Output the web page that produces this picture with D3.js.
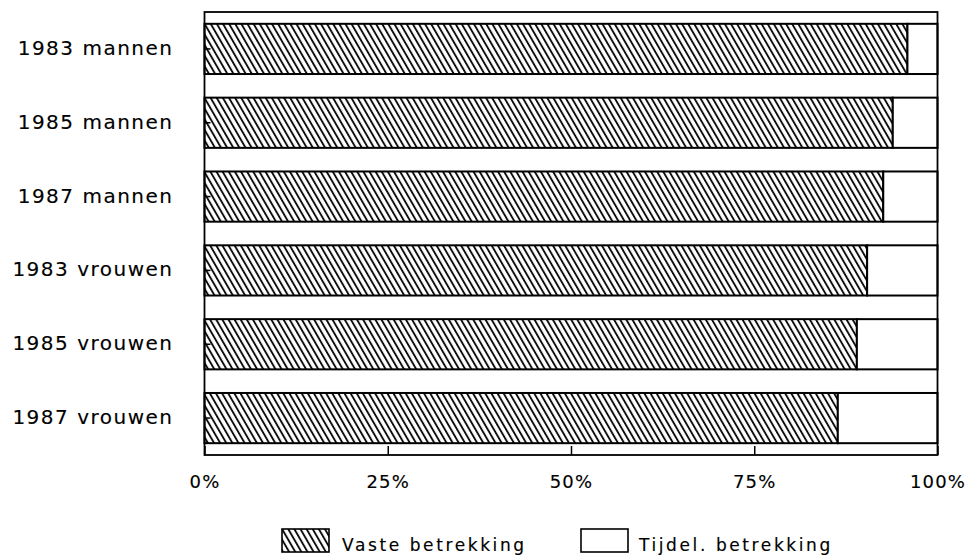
<!DOCTYPE html>
<html>
<head>
<meta charset="utf-8">
<script src="https://cdn.jsdelivr.net/npm/d3@7/dist/d3.min.js"></script>
<style>
  html, body { margin: 0; padding: 0; background: #fff; }
  svg { display: block; }
  text { font-family: "DejaVu Sans", sans-serif; fill: #000; stroke: #000; stroke-width: 0.15px; }
</style>
</head>
<body>
<svg id="chart" width="976" height="560"></svg>
<script>
const categories = ["1983 mannen", "1985 mannen", "1987 mannen", "1983 vrouwen", "1985 vrouwen", "1987 vrouwen"];
const vaste = [95.9, 93.9, 92.6, 90.4, 89.0, 86.4];
const tijdel = [4.1, 6.1, 7.4, 9.6, 11.0, 13.6];
const tickValues = [0, 25, 50, 75, 100];
const tickLabels = ["0%", "25%", "50%", "75%", "100%"];
const seriesNames = ["Vaste betrekking", "Tijdel. betrekking"];

(function () {
const svg = d3.select("#chart");
const mLeft = 204.5, mRight = 937.5, mTop = 12, mBottom = 455;

const defs = svg.append("defs");
defs.append("pattern")
  .attr("id", "hatch")
  .attr("patternUnits", "userSpaceOnUse")
  .attr("width", 5.3).attr("height", 10)
  .attr("patternTransform", "rotate(-30)")
  .append("line")
  .attr("x1", 1).attr("y1", -2).attr("x2", 1).attr("y2", 12)
  .attr("stroke", "#000").attr("stroke-width", 1.8);

const x = d3.scaleLinear().domain([0, 100]).range([mLeft, mRight]);
const y = d3.scaleBand().domain(categories).range([mTop, mBottom]).paddingInner(0.32).paddingOuter(0.16);

const rows = categories.map((c, i) => ({ c, v: vaste[i], t: tijdel[i] }));

const g = svg.append("g");
g.selectAll("rect.vaste").data(rows).join("rect")
  .attr("class", "vaste")
  .attr("x", x(0)).attr("y", d => y(d.c))
  .attr("width", d => x(d.v) - x(0)).attr("height", y.bandwidth())
  .attr("fill", "url(#hatch)").attr("stroke", "#000").attr("stroke-width", 2);
g.selectAll("rect.tijdel").data(rows).join("rect")
  .attr("class", "tijdel")
  .attr("x", d => x(d.v)).attr("y", d => y(d.c))
  .attr("width", d => x(d.v + d.t) - x(d.v)).attr("height", y.bandwidth())
  .attr("fill", "#fff").attr("stroke", "#000").attr("stroke-width", 2);

svg.append("rect")
  .attr("x", mLeft).attr("y", mTop).attr("width", mRight - mLeft).attr("height", mBottom - mTop)
  .attr("fill", "none").attr("stroke", "#000").attr("stroke-width", 1.8);

const yAxis = svg.append("g").attr("transform", `translate(${mLeft},0)`)
  .call(d3.axisLeft(y).tickSize(-6).tickPadding(31));
yAxis.select(".domain").remove();
yAxis.selectAll(".tick line").attr("stroke", "#000").attr("stroke-width", 1.5);
yAxis.selectAll(".tick text")
  .attr("font-size", 20).attr("letter-spacing", 1.5)
  .attr("font-family", "DejaVu Sans").attr("dy", "0.3em");

const xAxis = svg.append("g").attr("transform", `translate(0,${mBottom})`)
  .call(d3.axisBottom(x).tickValues(tickValues).tickFormat((d, i) => tickLabels[i]).tickSize(-9).tickPadding(20));
xAxis.select(".domain").remove();
xAxis.selectAll(".tick line").attr("stroke", "#000").attr("stroke-width", 1.5);
xAxis.selectAll(".tick text")
  .attr("font-size", 18).attr("letter-spacing", 1.2)
  .attr("font-family", "DejaVu Sans");

const legend = svg.append("g");
const items = [
  { name: seriesNames[0], fill: "url(#hatch)", sx: 282, tx: 342 },
  { name: seriesNames[1], fill: "#fff", sx: 581, tx: 639 }
];
items.forEach(it => {
  legend.append("rect")
    .attr("x", it.sx).attr("y", 529).attr("width", 47).attr("height", 23)
    .attr("fill", it.fill).attr("stroke", "#000").attr("stroke-width", 1.6);
  legend.append("text")
    .attr("x", it.tx).attr("y", 551)
    .attr("font-size", 17).attr("letter-spacing", 2.6)
    .text(it.name);
});
})();
</script>
</body>
</html>
